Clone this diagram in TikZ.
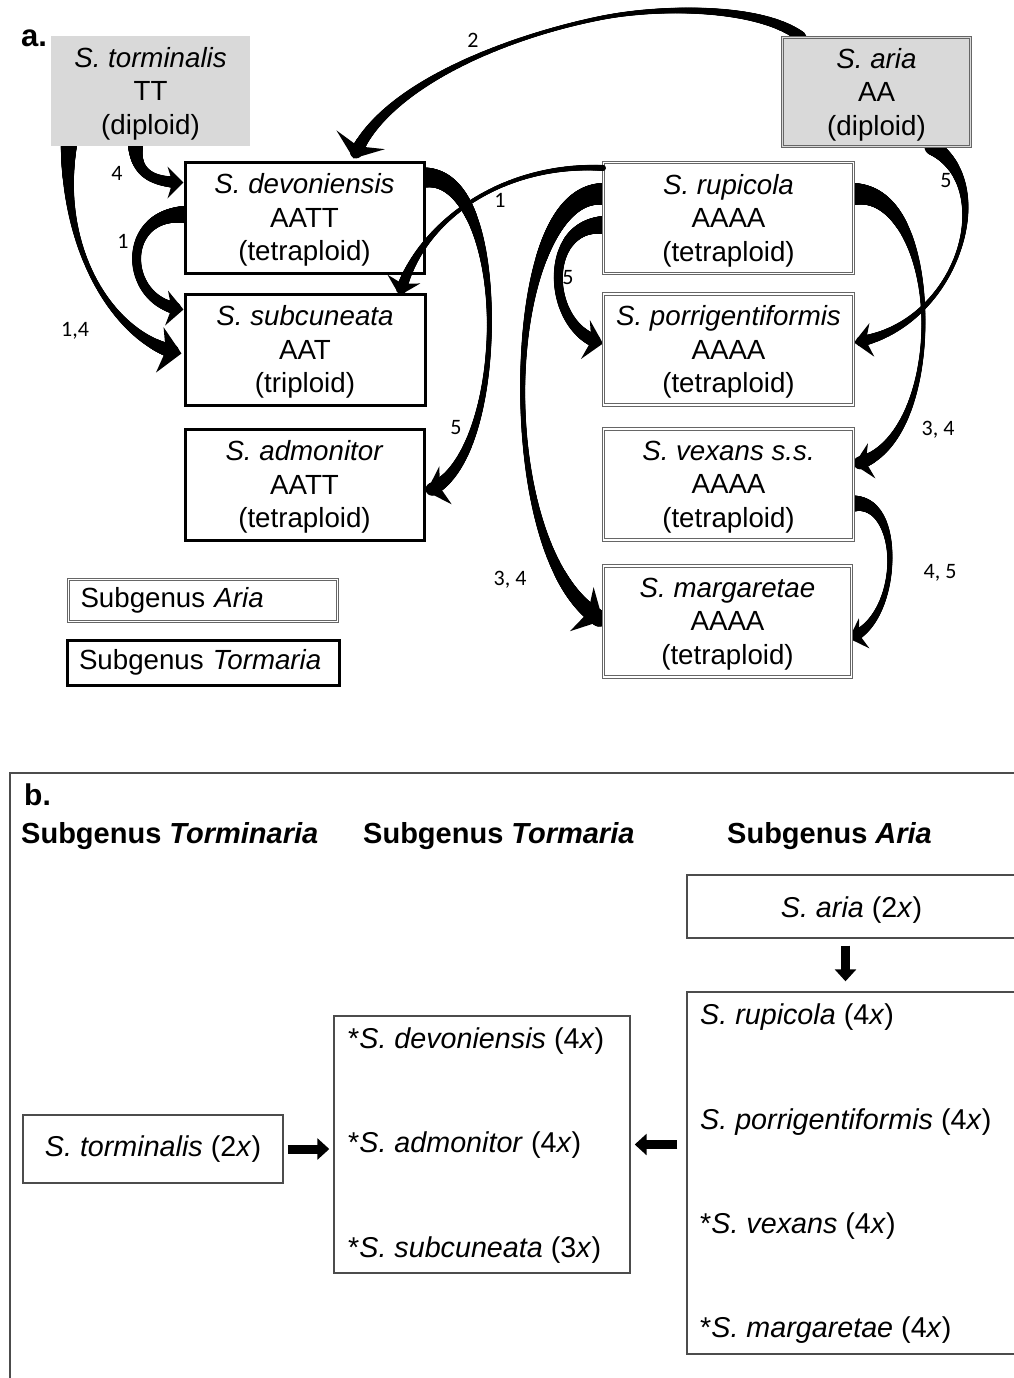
\documentclass[tikz,border=0pt]{standalone}
\usepackage{fontspec}
\setmainfont{Liberation Sans}
\newfontfamily\labfont{Carlito}
\usetikzlibrary{calc,decorations.markings,arrows.meta}

\tikzset{
  afont/.style={font=\fontsize{27.7}{33.5}\selectfont},
  bfont/.style={font=\fontsize{28.7}{34}\selectfont},
  tbox/.style={draw=black, line width=3pt, fill=white, align=center, inner sep=0pt, afont},
  abox/.style={draw=black!60, double=white, double distance=1.6pt, line width=1.1pt, fill=white, align=center, inner sep=0pt, afont},
  dipl/.style={fill=black!15, align=center, inner sep=0pt, afont},
  bbox/.style={draw=black!70, line width=1.4pt, fill=white, align=center, inner sep=0pt, bfont},
  btext/.style={inner sep=0pt, anchor=west, bfont},
  head/.style={inner sep=0pt, anchor=base west, font=\bfseries\fontsize{29}{34}\selectfont},
  lab/.style={inner sep=0pt, font=\labfont\fontsize{22}{24}\selectfont},
  barrow/.style={line width=9pt, -{Triangle[length=12pt,width=21pt]}},
  % tapered curved arrow: start width, middle width, end width, head length, head width, head inset
  tap/.style n args={6}{
    postaction={decoration={markings,
      mark=between positions 0 and 1 step 0.6pt with {%
        \pgfmathsetmacro\tapd{\pgfkeysvalueof{/pgf/decoration/mark info/distance from start}}%
        \pgfmathsetmacro\tapt{\tapd/\pgfdecoratedpathlength}%
        \pgfmathsetmacro\tapr{0.5*(\tapt<0.5 ? (#2+(#1-#2)*(1-2*\tapt)^2) : (#2+(#3-#2)*(2*\tapt-1)^2))}%
        \pgfmathsetmacro\tapk{(\tapd < \pgfdecoratedpathlength-0.55*#4) ? 1 : 0}%
        \ifdim\tapk pt>0.5pt \fill (0pt,0pt) circle[radius=\tapr pt];\fi
      }}, decorate},
    postaction={decoration={markings,
      mark=at position 0.9999 with {\fill (0pt,0pt) -- (-#4pt,0.5*#5pt) -- (-#4pt+#6pt,0pt) -- (-#4pt,-0.5*#5pt) -- cycle;}
    }, decorate}
  }
}

\begin{document}
\begin{tikzpicture}[x=1pt,y=-1pt]
\useasboundingbox (0,0) rectangle (1014,1378);
\clip (0,0) rectangle (1014,1378);

% ---------- part a: box centres ----------
\path (150.5,91) coordinate (torc) (876.5,92) coordinate (ariac)
      (304.5,217.5) coordinate (devc) (305,349.5) coordinate (subc) (304.5,484.5) coordinate (admc)
      (728.5,218) coordinate (rupc) (728.5,349.5) coordinate (porc) (728.5,484.5) coordinate (vexc) (727.5,621.5) coordinate (marc);

\tikzset{
  torbox/.style={dipl, minimum width=199pt, minimum height=110pt, text depth=1pt},
  aribox/.style={dipl, draw=black!60, double=black!15, double distance=1.6pt, line width=1.1pt, minimum width=188pt, minimum height=109pt, text depth=1pt},
  sp/.style={minimum width=#1, minimum height=111pt, text depth=1pt}
}
\node[torbox] (tor) at (torc) {\textit{S. torminalis}\\TT\\(diploid)};
\node[aribox] (aria) at (ariac) {\textit{S. aria}\\AA\\(diploid)};
\node[tbox, sp=239pt] (dev) at (devc) {\textit{S. devoniensis}\\AATT\\(tetraploid)};
\node[tbox, sp=240pt] (sub) at (subc) {\textit{S. subcuneata}\\AAT\\(triploid)};
\node[tbox, sp=239pt] (adm) at (admc) {\textit{S. admonitor}\\AATT\\(tetraploid)};
\node[abox, sp=250pt] (rup) at (rupc) {\textit{S. rupicola}\\AAAA\\(tetraploid)};
\node[abox, sp=250pt] (por) at (porc) {\textit{S. porrigentiformis}\\AAAA\\(tetraploid)};
\node[abox, sp=250pt] (vex) at (vexc) {\textit{S. vexans s.s.}\\AAAA\\(tetraploid)};
\node[abox, sp=248pt] (mar) at (marc) {\textit{S. margaretae}\\AAAA\\(tetraploid)};

% ---------- part a: connectors ----------
% 4 : torminalis -> devoniensis
\path[tap={15}{10}{13}{16}{32}{5}] ($(tor.south)+(-15,0)$) .. controls +(0,28) and +(-30,0) .. ($(dev.west)+(0,-35)$);
% 1 : devoniensis -> subcuneata
\path[tap={17}{9}{13}{17}{35}{5}] ($(dev.west)+(0,-3)$) .. controls +(-65,0) and +(-60,-5) .. ($(sub.west)+(0,-40)$);
% 1,4 : torminalis -> subcuneata
\path[tap={16}{5}{16}{22}{46}{6}] ($(tor.south west)+(18,0)$) .. controls +(-8,115) and +(-60,-10) .. ($(sub.west)+(-2,4)$);
% 2 : aria -> devoniensis
\coordinate (m2) at ($(aria.north west)+(-181,-19)$);
\path[tap={11}{4}{13}{20}{52}{7}] ($(aria.north west)+(19,0)$) .. controls +(-40,-31) and +(60,-12) .. (m2)
      .. controls +(-100,20) and +(27,-70) .. ($(dev.north)+(49,-2)$);
% 5 : devoniensis -> admonitor
\path[tap={20}{5}{14}{20}{40}{6}] ($(dev.east)+(0,-40)$) .. controls +(86,-2) and +(83,-27) .. ($(adm.east)+(1,7)$);
% 5 : rupicola -> porrigentiformis
\path[tap={18}{9}{14}{18}{40}{6}] ($(rup.west)+(0,7)$) .. controls +(-62,0) and +(-57,-13) .. ($(por.west)+(0,-6)$);
% 3,4 : rupicola -> margaretae
\path[tap={22}{5}{18}{24}{50}{7}] ($(rup.west)+(0,-24)$) .. controls +(-102,-4) and +(-112,-60) .. ($(mar.west)+(0,-1)$);
% 5 : aria -> porrigentiformis
\path[tap={16}{4}{12}{18}{34}{6}] ($(aria.south)+(56,0)$) .. controls +(68,40) and +(103,-15) .. ($(por.east)+(0,-7)$);
% 3,4 : rupicola -> vexans
\path[tap={22}{4}{14}{18}{36}{6}] ($(rup.east)+(0,-24)$) .. controls +(90,-4) and +(95,-20) .. ($(vex.east)+(0,-20)$);
% 4,5 : vexans -> margaretae
\path[tap={16}{5}{12}{16}{32}{5}] ($(vex.east)+(0,19)$) .. controls +(50,-3) and +(52,-18) .. ($(mar.east)+(-3,17)$);

% boxes again on top of the connector roots
\node[torbox] at (torc) {\textit{S. torminalis}\\TT\\(diploid)};
\node[aribox] at (ariac) {\textit{S. aria}\\AA\\(diploid)};
\node[tbox, sp=239pt] at (devc) {\textit{S. devoniensis}\\AATT\\(tetraploid)};
\node[tbox, sp=240pt] at (subc) {\textit{S. subcuneata}\\AAT\\(triploid)};
\node[tbox, sp=239pt] at (admc) {\textit{S. admonitor}\\AATT\\(tetraploid)};
\node[abox, sp=250pt] at (rupc) {\textit{S. rupicola}\\AAAA\\(tetraploid)};
\node[abox, sp=250pt] at (porc) {\textit{S. porrigentiformis}\\AAAA\\(tetraploid)};
\node[abox, sp=250pt] at (vexc) {\textit{S. vexans s.s.}\\AAAA\\(tetraploid)};
\node[abox, sp=248pt] at (marc) {\textit{S. margaretae}\\AAAA\\(tetraploid)};

% 1 : rupicola -> subcuneata (passes over the devoniensis corner)
\path[tap={6}{4}{12}{17}{34}{5}] ($(rup.north west)+(0,6)$) .. controls +(-100,-5) and +(20,-75) .. ($(sub.north east)+(-27,3)$);

\node[head, font=\bfseries\fontsize{31}{34}\selectfont] (la) at (21,47) {a.};
\node[abox, minimum width=269pt, minimum height=42pt, text width=245pt, inner xsep=12pt, align=left] (legA) at (203,600.5) {Subgenus \textit{Aria}};
\node[tbox, minimum width=272pt, minimum height=45pt, text width=248pt, inner xsep=12pt, align=left] (legT) at (203,662.5) {Subgenus \textit{Tormaria}};

% ---------- part a: labels ----------
\node[lab] (l2) at (473,40) {2};
\node[lab] (l4) at (117,173) {4};
\node[lab] (l1a) at (123,241) {1};
\node[lab] (l14) at (75,331) {1,4};
\node[lab] (l1b) at (500,200) {1};
\node[lab] (l5a) at (568,278) {5};
\node[lab] (l5b) at (456,428) {5};
\node[lab] (l34a) at (510,580) {3, 4};
\node[lab] (l5c) at (946,181) {5};
\node[lab] (l34b) at (938,430) {3, 4};
\node[lab] (l45) at (940,573) {4, 5};

% ---------- part b ----------
\draw[black!70, line width=1.5pt] (10,1420) -- (10,773) -- (1040,773);
\node[head, font=\bfseries\fontsize{30}{34}\selectfont] (lb) at (24,805) {b.};
\node[head] (h1) at (21,843) {Subgenus \textit{Torminaria}};
\node[head] (h2) at (363,843) {Subgenus \textit{Tormaria}};
\node[head] (h3) at (727,843) {Subgenus \textit{Aria}};

\node[bbox, minimum width=329pt, minimum height=63pt, text height=28pt] (saria) at (851.5,906.5) {\textit{S. aria} (2\textit{x})};
\node[bbox, minimum width=329pt, minimum height=362pt] (abx) at (851.5,1173) {};
\node[btext] (b1) at (700,1017) {\textit{S. rupicola} (4\textit{x})};
\node[btext] (b2) at (700,1122) {\textit{S. porrigentiformis} (4\textit{x})};
\node[btext] (b3) at (700,1226) {*\textit{S. vexans} (4\textit{x})};
\node[btext] (b4) at (700,1330) {*\textit{S. margaretae} (4\textit{x})};

\node[bbox, minimum width=296pt, minimum height=257pt] (tmr) at (482,1144.5) {};
\node[btext] (t1) at (348,1041) {*\textit{S. devoniensis} (4\textit{x})};
\node[btext] (t2) at (348,1145) {*\textit{S. admonitor} (4\textit{x})};
\node[btext] (t3) at (348,1250) {*\textit{S. subcuneata} (3\textit{x})};

\node[bbox, minimum width=260pt, minimum height=68pt] (tmb) at (153,1149) {\textit{S. torminalis} (2\textit{x})};

\draw[barrow, shorten <=4pt, shorten >=4pt] (tmb.east) -- (tmb.east -| tmr.west);
\draw[barrow, shorten <=9pt, shorten >=4pt] (abx.west |- tmr.east) -- (tmr.east);
\draw[barrow, shorten <=7pt, shorten >=10pt] ($(saria.south)+(-6,0)$) -- ($(abx.north)+(-6,0)$);
\end{tikzpicture}
\end{document}
